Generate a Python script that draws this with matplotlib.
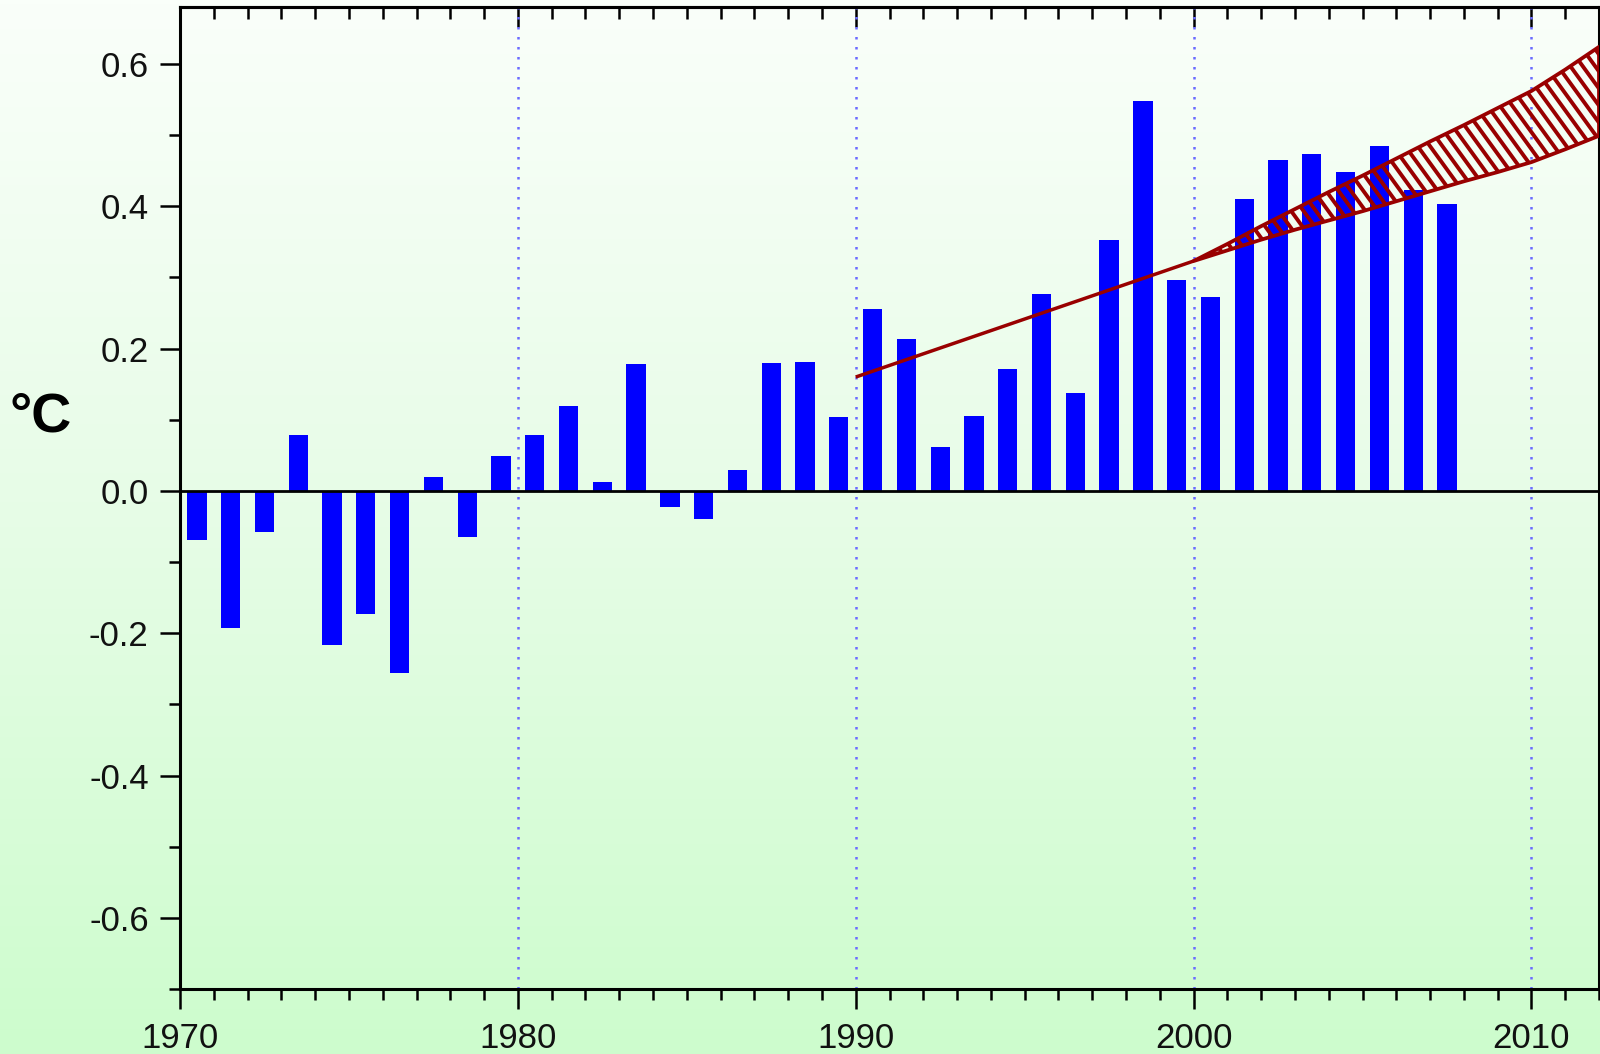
import numpy as np
import matplotlib
matplotlib.use("Agg")
import matplotlib.pyplot as plt
from matplotlib.patches import Polygon
from matplotlib.collections import LineCollection
from matplotlib.colors import LinearSegmentedColormap
from matplotlib.ticker import MultipleLocator, FixedLocator
from matplotlib.transforms import IdentityTransform

plt.rcParams['font.family'] = ['Liberation Sans', 'DejaVu Sans']

# ---------------- data ----------------
years = list(range(1970, 2008))
anomaly = [-0.069, -0.193, -0.058, 0.078, -0.216, -0.173, -0.256, 0.020, -0.065, 0.049,
           0.078, 0.119, 0.012, 0.178, -0.023, -0.040, 0.029, 0.180, 0.181, 0.104,
           0.255, 0.213, 0.062, 0.105, 0.171, 0.276, 0.137, 0.352, 0.548, 0.297,
           0.272, 0.410, 0.465, 0.474, 0.448, 0.484, 0.423, 0.403]

trend_years = [1990, 2000]
trend_vals = [0.160, 0.323]

band_years = list(range(2000, 2013))
band_upper = [0.323, 0.347, 0.372, 0.396, 0.420, 0.443, 0.467, 0.491, 0.514, 0.538, 0.562, 0.592, 0.624]
band_lower = [0.323, 0.338, 0.353, 0.367, 0.380, 0.393, 0.407, 0.421, 0.435, 0.448, 0.462, 0.480, 0.499]

x_major = [1970, 1980, 1990, 2000, 2010]
x_labels = ['1970', '1980', '1990', '2000', '2010']
y_major = [-0.6, -0.4, -0.2, 0.0, 0.2, 0.4, 0.6]
y_labels = ['-0.6', '-0.4', '-0.2', '0.0', '0.2', '0.4', '0.6']
grid_years = [1980, 1990, 2000, 2010]

# ---------------- figure ----------------
W, H = 1600, 1054
fig = plt.figure(figsize=(W / 100, H / 100), dpi=100)

# background gradient
bg = fig.add_axes([0, 0, 1, 1], zorder=-10)
cmap = LinearSegmentedColormap.from_list('bg', ['#cdfccd', '#e6fce6', '#fafffa'])
grad = np.linspace(0, 1, 256).reshape(-1, 1)
bg.imshow(grad, aspect='auto', cmap=cmap, origin='lower', extent=[0, 1, 0, 1])
bg.set_axis_off()

left, right, top, bottom = 180, 1599, 7, 989
ax = fig.add_axes([left / W, 1 - bottom / H, (right - left) / W, (bottom - top) / H], zorder=1)
ax.set_facecolor('none')

ax.set_xlim(1970, 2012)
ax.set_ylim(-0.7, 0.68)

red = '#990000'

# grid lines
for g in grid_years:
    ax.axvline(g, color='#6b6bff', lw=1.8, ls=(0, (1, 3)), zorder=1)
ax.axhline(0, color='black', lw=2, zorder=3)

# bars
ax.bar([y + 0.5 for y in years], anomaly, width=0.57, color='#0000ff', zorder=2)

# trend line
ax.plot(trend_years, trend_vals, color=red, lw=2.5, zorder=5, solid_capstyle='butt')

# band
verts = list(zip(band_years, band_upper)) + list(zip(band_years[::-1], band_lower[::-1]))
poly = Polygon(verts, closed=True, facecolor='none', edgecolor=red, lw=2.7,
               transform=ax.transData, zorder=6, joinstyle='round')
ax.add_patch(poly)

# manual hatching clipped to band
fig.canvas.draw()
d = ax.transData.transform
(x0d, y0d) = d((min(band_years), min(band_lower)))
(x1d, y1d) = d((max(band_years), max(band_upper)))
ang = np.deg2rad(54)
span = (y1d - y0d) + 20
dx = span / np.tan(ang)
segs = []
for xs in np.arange(x0d - dx - 20, x1d + 20, 12.4):
    segs.append([(xs, y1d + 10), (xs + dx, y1d + 10 - span)])
lc = LineCollection(segs, colors=red, linewidths=2.8, transform=IdentityTransform(), zorder=6)
ax.add_collection(lc)
lc.set_clip_path(poly)

# ticks
ax.xaxis.set_major_locator(FixedLocator(x_major))
ax.set_xticklabels(x_labels)
ax.xaxis.set_minor_locator(MultipleLocator(1))
ax.yaxis.set_major_locator(FixedLocator(y_major))
ax.set_yticklabels(y_labels)
ax.yaxis.set_minor_locator(MultipleLocator(0.1))

ax.tick_params(axis='both', which='major', direction='out', length=14.5, width=1.8,
               labelsize=25, color='black', labelcolor='#111111')
ax.tick_params(axis='both', which='minor', direction='out', length=8, width=1.8)
ax.tick_params(axis='x', which='major', pad=9)
ax.tick_params(axis='y', which='major', pad=8)
ax.tick_params(right=False, top=False, which='both')

sec = ax.secondary_xaxis('top')
sec.xaxis.set_major_locator(FixedLocator(x_major))
sec.xaxis.set_minor_locator(MultipleLocator(1))
sec.tick_params(axis='x', which='major', direction='in', length=14.5, width=1.8, labeltop=False)
sec.tick_params(axis='x', which='minor', direction='in', length=8.5, width=1.8)
sec.spines['top'].set_linewidth(2.2)

for s in ax.spines.values():
    s.set_linewidth(2.2)
    s.set_color('black')

fig.text(41 / W, 1 - 418 / H, '°C', fontsize=40, fontweight='bold', ha='center', va='center')

fig.savefig('out.png', dpi=100)
